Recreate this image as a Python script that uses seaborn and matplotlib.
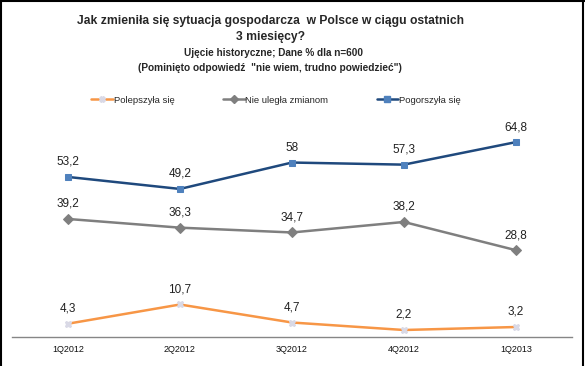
import matplotlib
matplotlib.use("Agg")
import matplotlib.pyplot as plt
import seaborn as sns
import pandas as pd
from matplotlib.lines import Line2D

categories = ["1Q2012", "2Q2012", "3Q2012", "4Q2012", "1Q2013"]
polepszyla = [4.3, 10.7, 4.7, 2.2, 3.2]
nie_ulegla = [39.2, 36.3, 34.7, 38.2, 28.8]
pogorszyla = [53.2, 49.2, 58.0, 57.3, 64.8]
series_names = ["Polepszyła się", "Nie uległa zmianom", "Pogorszyła się"]
colors = ["#F79646", "#7F7F7F", "#1F497D"]
marker_colors = ["#D9D9E6", "#7F7F7F", "#4F81BD"]
markers = ["X", "D", "s"]
marker_sizes = [5, 5.5, 4.5]

sns.set_theme(style="white")
plt.rcParams["font.family"] = ["Liberation Sans", "DejaVu Sans"]

df = pd.DataFrame({"kwartal": categories * 3,
                   "x": list(range(len(categories))) * 3,
                   "wartosc": polepszyla + nie_ulegla + pogorszyla,
                   "seria": sum([[s] * len(categories) for s in series_names], [])})

fig = plt.figure(figsize=(5.85, 3.66), dpi=100)
ax = fig.add_axes([0.0205, 0.0803, 0.957, 0.574])

for name, col, mcol, mk, ms in zip(series_names, colors, marker_colors, markers, marker_sizes):
    sub = df[df["seria"] == name]
    sns.lineplot(data=sub, x="x", y="wartosc", ax=ax, color=col, linewidth=1.8,
                 marker=mk, markersize=ms, markerfacecolor=mcol,
                 markeredgecolor=mcol, legend=False)
    for xi, v in zip(sub["x"], sub["wartosc"]):
        lbl = (f"{v:.1f}".replace(".", ",")) if v != int(v) else str(int(v))
        ax.annotate(lbl, (xi, v), textcoords="offset points", xytext=(0, 6.5),
                    ha="center", va="bottom", fontsize=8.5, color="#222222")

ax.set_xlim(-0.5, len(categories) - 0.5)
ax.set_ylim(0, 70)
ax.set_xticks(range(len(categories)))
ax.set_xticklabels(categories, fontsize=6.5, color="#111111")
ax.tick_params(axis="x", length=0, pad=6)
ax.set_yticks([])
ax.set_xlabel("")
ax.set_ylabel("")
for s in ["top", "right", "left"]:
    ax.spines[s].set_visible(False)
ax.spines["bottom"].set_color("#868686")
ax.spines["bottom"].set_linewidth(1.0)
ax.patch.set_alpha(0)

cx = 0.462
fig.text(cx, 1 - 21 / 366, "Jak zmieniła się sytuacja gospodarcza  w Polsce w ciągu ostatnich",
         ha="center", va="center", fontsize=8.7, fontweight="bold")
fig.text(cx, 1 - 37 / 366, "3 miesięcy?", ha="center", va="center", fontsize=8.7, fontweight="bold")
fig.text(cx + 0.005, 1 - 53 / 366, "Ujęcie historyczne; Dane % dla n=600",
         ha="center", va="center", fontsize=7.2, fontweight="bold")
fig.text(cx, 1 - 68 / 366, "(Pominięto odpowiedź  \"nie wiem, trudno powiedzieć\")",
         ha="center", va="center", fontsize=7.3, fontweight="bold")

handles = [Line2D([0], [0], color=c, lw=1.8, marker=m, markersize=4,
                  markerfacecolor=mc, markeredgecolor=mc)
           for c, mc, m in zip(colors, marker_colors, markers)]
fig.legend(handles, series_names, loc="center", bbox_to_anchor=(0.472, 1 - 100 / 366),
           ncol=3, frameon=False, fontsize=6.8, handlelength=2.3, columnspacing=5.1,
           handletextpad=0.1, borderpad=0)

frame = dict(color="black", linewidth=1.5, transform=fig.transFigure)
fig.add_artist(Line2D([0.002, 0.002], [0, 1], **frame))
fig.add_artist(Line2D([0, 1], [0.998, 0.998], **frame))
fig.add_artist(Line2D([0.997, 0.997], [0, 1], **frame))
fig.savefig("out.png", dpi=100)
